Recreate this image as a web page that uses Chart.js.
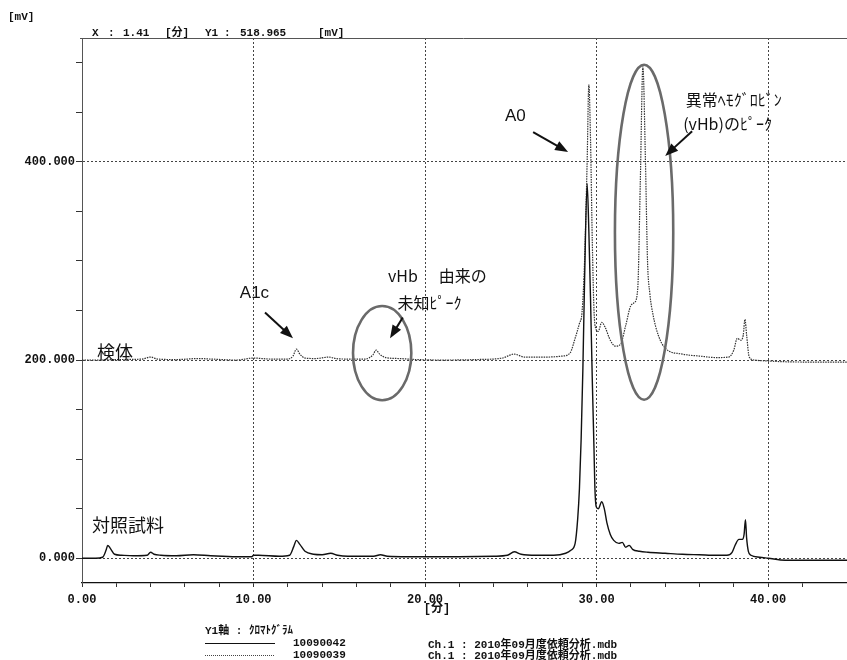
<!DOCTYPE html>
<html>
<head>
<meta charset="utf-8">
<script src="https://cdn.jsdelivr.net/npm/chart.js@4.4.1/dist/chart.umd.min.js"></script>
<style>
    body { margin: 0; background: #fff; }
</style>
</head>
<body>
<canvas id="grafico" width="847" height="660"></canvas>
<script>
//Datos: tiempo [分] y señal [mV]
var tiempoControl = [0, 0.8, 1.2, 1.4, 1.5, 1.65, 1.9, 2.3, 3.0, 3.8, 4.0, 4.2, 4.6, 5.5, 6.5, 7.5, 9.0, 9.9,
    10.0, 10.3, 11.5, 12.1, 12.35, 12.5, 12.7, 13.0, 13.5, 14.0, 14.5, 14.9, 15.5, 17.0, 17.4, 17.8, 19.0,
    20.0, 22.0, 24.0, 24.8, 25.2, 25.6, 26.5, 27.5, 28.2, 28.5, 28.75, 28.9, 29.0, 29.1, 29.2, 29.3, 29.45,
    29.55, 29.65, 29.75, 29.85, 29.9, 29.98, 30.1, 30.3, 30.45, 30.6, 30.8, 31.0, 31.3, 31.5, 31.7, 31.9,
    32.1, 32.5, 33.0, 34.0, 35.0, 36.0, 37.0, 37.6, 37.9, 38.1, 38.3, 38.5, 38.6, 38.68, 38.75, 38.85,
    39.0, 39.5, 40.0, 41.0, 43.0, 44.6];
var senalControl = [0, 0, 1, 8, 13, 10, 4, 3, 2.5, 3, 6, 4, 3, 2.5, 3.5, 2.5, 1.5, 1.5,
    3, 3, 2, 3, 12, 18, 14, 7, 4, 3.5, 5, 3, 2, 2, 3.5, 2, 1.5,
    1.5, 1.5, 2, 3, 6.5, 4, 3, 3, 5, 8, 15, 40, 70, 120, 190, 280, 378,
    330, 260, 180, 110, 72, 52, 50, 57, 50, 36, 24, 18, 15, 16, 11, 13,
    9, 7, 6, 5, 4, 3.5, 3, 3, 6, 14, 19, 19, 24, 39, 20, 7,
    3, 1, 0, -2, -2, -2];

var tiempoMuestra = [0, 1.0, 2.0, 3.5, 4.0, 4.4, 5.5, 6.8, 7.5, 9.0, 10.0, 11.0, 12.0, 12.3, 12.5, 12.7, 13.0,
    13.6, 14.4, 14.8, 15.5, 16.5, 16.95, 17.15, 17.35, 17.7, 18.5, 19.5, 21.0, 23.0, 24.5, 25.2, 25.8, 27.0,
    28.0, 28.45, 28.75, 29.0, 29.15, 29.3, 29.45, 29.55, 29.65, 29.75, 29.85, 29.95, 30.1, 30.3, 30.5, 30.8,
    31.1, 31.4, 31.7, 32.0, 32.2, 32.4, 32.55, 32.7, 32.85, 32.97, 33.1, 33.3, 33.6, 34.0, 35.0, 36.0, 37.0,
    37.7, 38.0, 38.2, 38.4, 38.55, 38.65, 38.75, 38.9, 39.2, 40.0, 42.0, 44.6];
var senalMuestra = [200, 200, 200.5, 201, 203, 201, 200.5, 201.5, 201, 200, 202, 201, 201, 204, 211, 206, 202,
    201.5, 203, 201.5, 201, 201, 205, 210, 206, 202.5, 201.5, 200.5, 200, 200.5, 202, 206, 203, 203,
    204, 207, 222, 237, 248, 300, 400, 478, 420, 320, 250, 232, 229, 238, 233, 220,
    214, 216, 235, 255, 258, 272, 380, 496, 400, 300, 268, 245, 225, 212, 206, 204, 202.5,
    203, 210, 222, 220, 225, 241, 225, 203, 200, 199, 198, 198];

var marcasY = [0, 200, 400];
var marcasX = [0, 10, 20, 30, 40];

function puntos(tiempos, valores) {
    var lista = [];
    for (var i = 0; i < tiempos.length; i++) {
        lista.push({ x: tiempos[i], y: valores[i] });
    }
    return lista;
}

var fuenteNum = '"Liberation Mono", "Noto Sans CJK JP", monospace';
var fuenteJp = '"Noto Sans CJK JP", sans-serif';

function flecha(ctx, x1, y1, x2, y2) {
    var ang = Math.atan2(y2 - y1, x2 - x1);
    var largo = 13;
    ctx.beginPath();
    ctx.moveTo(x1, y1);
    ctx.lineTo(x2 - Math.cos(ang) * largo * 0.8, y2 - Math.sin(ang) * largo * 0.8);
    ctx.stroke();
    ctx.beginPath();
    ctx.moveTo(x2, y2);
    ctx.lineTo(x2 - largo * Math.cos(ang) + 5 * Math.sin(ang), y2 - largo * Math.sin(ang) - 5 * Math.cos(ang));
    ctx.lineTo(x2 - largo * Math.cos(ang) - 5 * Math.sin(ang), y2 - largo * Math.sin(ang) + 5 * Math.cos(ang));
    ctx.closePath();
    ctx.fill();
}

//Dibujamos los textos, elipses y flechas sobre la grafica
var anotaciones = {
    id: 'anotaciones',
    afterDraw: function (chart) {
        var ctx = chart.ctx;
        var sx = chart.scales.x;
        var sy = chart.scales.y;
        var area = chart.chartArea;
        function px(v) { return sx.getPixelForValue(v); }
        function py(v) { return sy.getPixelForValue(v); }

        ctx.save();
        //linea superior
        ctx.strokeStyle = '#555';
        ctx.lineWidth = 1;
        ctx.beginPath();
        ctx.moveTo(area.left - 2, area.top + 0.5);
        ctx.lineTo(area.right, area.top + 0.5);
        ctx.stroke();

        ctx.fillStyle = '#111';
        ctx.textBaseline = 'middle';
        ctx.textAlign = 'left';
        ctx.font = 'bold 11px ' + fuenteNum;
        ctx.fillText('[mV]', 8, 17);
        ctx.fillText('X', 92, 33);
        ctx.fillText(':', 108, 33);
        ctx.fillText('1.41', 123, 33);
        ctx.fillText('[分]', 165, 33);
        ctx.fillText('Y1', 205, 33);
        ctx.fillText(':', 224, 33);
        ctx.fillText('518.965', 240, 33);
        ctx.fillText('[mV]', 318, 33);

        //titulo eje x
        ctx.textAlign = 'center';
        ctx.font = 'bold 12px ' + fuenteNum;
        ctx.fillText('[分]', px(20.7), 609);

        //leyenda
        ctx.font = 'bold 11px ' + fuenteNum;
        ctx.textAlign = 'left';
        ctx.fillText('Y1軸 : ｸﾛﾏﾄｸﾞﾗﾑ', 205, 631);
        ctx.fillText('10090042', 293, 643);
        ctx.fillText('10090039', 293, 655);
        ctx.fillText('Ch.1 : 2010年09月度依頼分析.mdb', 428, 645);
        ctx.fillText('Ch.1 : 2010年09月度依頼分析.mdb', 428, 656);
        ctx.strokeStyle = '#111';
        ctx.lineWidth = 1.2;
        ctx.beginPath();
        ctx.moveTo(205, 643.5);
        ctx.lineTo(275, 643.5);
        ctx.stroke();
        ctx.strokeStyle = '#444';
        ctx.lineWidth = 1;
        ctx.setLineDash([1, 1]);
        ctx.beginPath();
        ctx.moveTo(205, 655.5);
        ctx.lineTo(275, 655.5);
        ctx.stroke();
        ctx.setLineDash([]);

        //elipses
        ctx.strokeStyle = '#6a6a6a';
        ctx.lineWidth = 2.6;
        ctx.beginPath();
        ctx.ellipse(px(32.77), py(329), px(1.7) - px(0), py(0) - py(169), 0, 0, Math.PI * 2);
        ctx.stroke();
        ctx.beginPath();
        ctx.ellipse(px(17.5), py(207), px(1.7) - px(0), py(0) - py(47.5), 0, 0, Math.PI * 2);
        ctx.stroke();

        //flechas
        ctx.strokeStyle = '#111';
        ctx.fillStyle = '#111';
        ctx.lineWidth = 2;
        flecha(ctx, px(26.3), py(430), px(28.34), py(410));
        flecha(ctx, px(35.57), py(431), px(34.0), py(406));
        flecha(ctx, px(10.67), py(248), px(12.3), py(222));
        flecha(ctx, px(18.7), py(243), px(17.96), py(222));

        //etiquetas
        ctx.font = '17px "Liberation Sans", sans-serif';
        ctx.fillText('A0', px(24.66), py(446));
        ctx.fillText('A1c', px(9.2), py(267));
        ctx.font = '16px ' + fuenteJp;
        ctx.fillText('異常ﾍﾓｸﾞﾛﾋﾞﾝ', px(35.2), py(463));
        ctx.fillText('(vHb)のﾋﾟｰｸ', px(35.05), py(438));
        ctx.fillText('vHb', px(17.84), py(285));
        ctx.fillText('由来の', px(20.8), py(285));
        ctx.fillText('未知ﾋﾟｰｸ', px(18.4), py(258));
        ctx.font = '18px ' + fuenteJp;
        ctx.fillText('検体', px(0.87), py(208));
        ctx.fillText('対照試料', px(0.58), py(33));
        ctx.restore();
    }
};

var ctx = document.getElementById('grafico').getContext('2d');

var cromatograma = new Chart(ctx, {
    type: 'line',
    data: {
        datasets: [{
            label: '10090042',
            data: puntos(tiempoControl, senalControl),
            borderColor: '#111',
            borderWidth: 1.4,
            pointRadius: 0,
            cubicInterpolationMode: 'monotone',
            fill: false
        }, {
            label: '10090039',
            data: puntos(tiempoMuestra, senalMuestra),
            borderColor: '#333',
            borderWidth: 1.2,
            borderDash: [1.5, 1],
            pointRadius: 0,
            cubicInterpolationMode: 'monotone',
            fill: false
        }]
    },
    options: {
        responsive: false,
        animation: false,
        layout: { padding: { top: 38, right: 0, bottom: 0, left: 0 } },
        plugins: {
            legend: { display: false },
            tooltip: { enabled: false }
        },
        scales: {
            x: {
                type: 'linear',
                min: 0,
                max: 44.6,
                afterFit: function (scale) {
                    scale.height = 77;
                    scale.paddingRight = 0;
                },
                ticks: {
                    stepSize: 2,
                    autoSkip: false,
                    maxRotation: 0,
                    padding: 6,
                    color: '#111',
                    font: { family: fuenteNum, size: 12, weight: 'bold' },
                    callback: function (v) {
                        return marcasX.indexOf(v) >= 0 ? v.toFixed(2) : '';
                    }
                },
                grid: {
                    color: function (c) {
                        return c.tick && marcasX.indexOf(c.tick.value) > 0 ? '#444' : 'rgba(0,0,0,0)';
                    },
                    tickColor: '#333',
                    tickLength: 4,
                    lineWidth: 1
                },
                border: { color: '#111', width: 1.3, dash: [2, 2] }
            },
            y: {
                min: -25,
                max: 525,
                afterFit: function (scale) { scale.width = 82; },
                afterBuildTicks: function (scale) {
                    var lista = [];
                    for (var v = 0; v <= 500; v += 50) {
                        lista.push({ value: v });
                    }
                    scale.ticks = lista;
                },
                ticks: {
                    autoSkip: false,
                    padding: 1,
                    color: '#111',
                    font: { family: fuenteNum, size: 12, weight: 'bold' },
                    callback: function (v) {
                        return marcasY.indexOf(v) >= 0 ? v.toFixed(3) : '';
                    }
                },
                grid: {
                    color: function (c) {
                        return c.tick && marcasY.indexOf(c.tick.value) >= 0 ? '#444' : 'rgba(0,0,0,0)';
                    },
                    tickColor: '#333',
                    tickLength: 6,
                    lineWidth: 1
                },
                border: { color: '#555', width: 1, dash: [2, 2] }
            }
        }
    },
    plugins: [anotaciones]
});
</script>
</body>
</html>
